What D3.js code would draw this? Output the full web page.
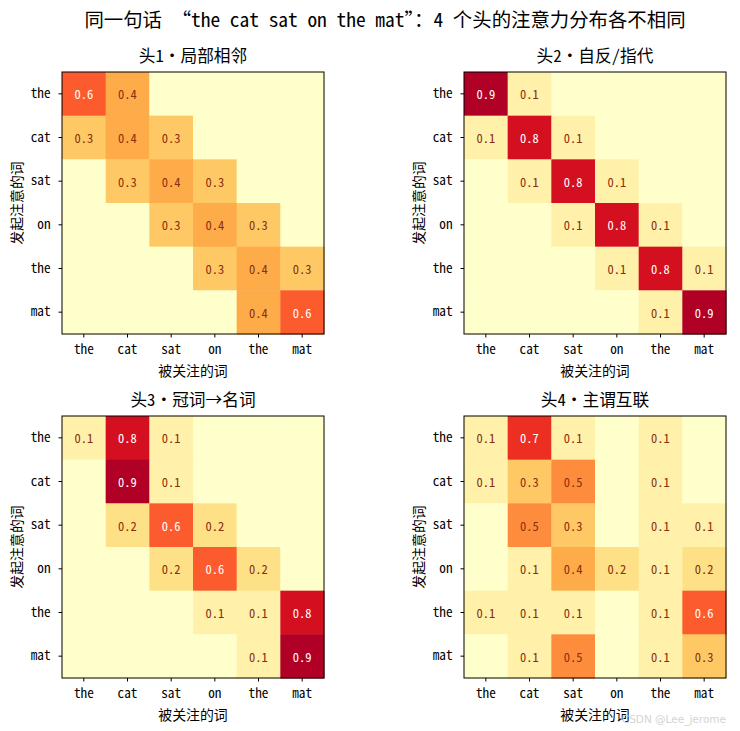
<!DOCTYPE html>
<html><head><meta charset="utf-8">
<script src="https://cdn.jsdelivr.net/npm/d3@7"></script>
<style>
body{margin:0;background:#fff;}
svg{display:block;font-family:"Noto Sans Mono CJK SC","DejaVu Sans Mono","Noto Sans CJK SC",sans-serif;}
</style></head>
<body><svg id="c" width="740" height="731"></svg>
<script>
const tokens = ["the","cat","sat","on","the","mat"];
const suptitle = "同一句话 “the cat sat on the mat”：4 个头的注意力分布各不相同";
const headTitles = ["头1·局部相邻","头2·自反/指代","头3·冠词→名词","头4·主谓互联"];
const xLabel = "被关注的词";
const yLabel = "发起注意的词";
const head1 = [
  [0.6,0.4,0,0,0,0],
  [0.3,0.4,0.3,0,0,0],
  [0,0.3,0.4,0.3,0,0],
  [0,0,0.3,0.4,0.3,0],
  [0,0,0,0.3,0.4,0.3],
  [0,0,0,0,0.4,0.6]];
const head2 = [
  [0.9,0.1,0,0,0,0],
  [0.1,0.8,0.1,0,0,0],
  [0,0.1,0.8,0.1,0,0],
  [0,0,0.1,0.8,0.1,0],
  [0,0,0,0.1,0.8,0.1],
  [0,0,0,0,0.1,0.9]];
const head3 = [
  [0.1,0.8,0.1,0,0,0],
  [0,0.9,0.1,0,0,0],
  [0,0.2,0.6,0.2,0,0],
  [0,0,0.2,0.6,0.2,0],
  [0,0,0,0.1,0.1,0.8],
  [0,0,0,0,0.1,0.9]];
const head4 = [
  [0.1,0.7,0.1,0,0.1,0],
  [0.1,0.3,0.5,0,0.1,0],
  [0,0.5,0.3,0,0.1,0.1],
  [0,0.1,0.4,0.2,0.1,0.2],
  [0.1,0.1,0.1,0,0.1,0.6],
  [0,0.1,0.5,0,0.1,0.3]];
const heads = [head1,head2,head3,head4];

const ylOrRd = ["#ffffcc","#ffeda0","#fed976","#feb24c","#fd8d3c","#fc4e2a","#e31a1c","#bd0026","#800026"];
const color = d3.scaleLinear().domain(d3.range(9).map(i=>i/8)).range(ylOrRd).interpolate(d3.interpolateRgb).clamp(true);

const svg = d3.select("#c");
svg.append("text").attr("x",385).attr("y",27).attr("text-anchor","middle")
  .attr("font-size",19.4).attr("fill","#000").text(suptitle);

const S = 262;
const origins = [[62,72],[464,72],[62,416],[464,416]];

heads.forEach((m,k)=>{
  const [ox,oy] = origins[k];
  const g = svg.append("g").attr("transform",`translate(${ox},${oy})`);
  const idx = d3.range(tokens.length);
  const x = d3.scaleBand().domain(idx).range([0,S]);
  const y = d3.scaleBand().domain(idx).range([0,S]);
  const cells = [];
  m.forEach((row,i)=>row.forEach((v,j)=>cells.push({i,j,v})));
  g.selectAll("rect.cell").data(cells).enter().append("rect")
    .attr("x",d=>x(d.j)).attr("y",d=>y(d.i))
    .attr("width",x.bandwidth()+0.5).attr("height",y.bandwidth()+0.5)
    .attr("fill",d=>color(d.v));
  g.selectAll("text.val").data(cells.filter(d=>d.v>=0.05)).enter().append("text")
    .attr("x",d=>x(d.j)+x.bandwidth()/2).attr("y",d=>y(d.i)+y.bandwidth()/2)
    .attr("text-anchor","middle").attr("dominant-baseline","central")
    .attr("font-size",12.5)
    .attr("fill",d=>d.v>0.5?"#ffffff":"#8b2e10")
    .text(d=>d.v.toFixed(1));
  g.append("rect").attr("x",0).attr("y",0).attr("width",S).attr("height",S)
    .attr("fill","none").attr("stroke","#000").attr("stroke-width",1);
  const xa = g.append("g").attr("transform",`translate(0,${S})`)
    .call(d3.axisBottom(x).tickSize(3.5).tickPadding(7).tickFormat(i=>tokens[i]));
  const ya = g.append("g").call(d3.axisLeft(y).tickSize(3.5).tickPadding(8).tickFormat(i=>tokens[i]));
  [xa,ya].forEach(a=>{
    a.select(".domain").remove();
    a.selectAll("text").attr("font-size",13.2).attr("fill","#000");
    a.selectAll("line").attr("stroke","#000");
    a.attr("font-family",null);
  });
  g.append("text").attr("x",S/2).attr("y",-10).attr("text-anchor","middle")
    .attr("font-size",16.7).attr("fill","#000").text(headTitles[k]);
  g.append("text").attr("x",S/2).attr("y",S+42).attr("text-anchor","middle")
    .attr("font-size",13.9).attr("fill","#000").text(xLabel);
  g.append("text").attr("transform",`translate(-40,${S/2}) rotate(-90)`).attr("text-anchor","middle")
    .attr("font-size",13.9).attr("fill","#000").text(yLabel);
});

svg.append("text").attr("x",726).attr("y",723).attr("text-anchor","end")
  .attr("font-size",10.5).attr("fill","#d4d4d4").attr("font-family","DejaVu Sans, sans-serif").text("CSDN @Lee_jerome");
</script></body></html>
